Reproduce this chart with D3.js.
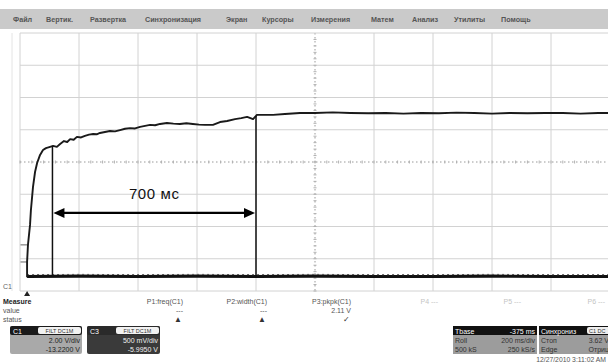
<!DOCTYPE html>
<html><head><meta charset="utf-8">
<script src="https://cdn.jsdelivr.net/npm/d3@7"></script>
<style>body{margin:0;background:#fff}svg{display:block;font-family:"Liberation Sans",Arial,sans-serif}</style>
</head><body>
<script>
// ---- data ----
const menuItems = ["Файл","Вертик.","Развертка","Синхронизация","Экран","Курсоры","Измерения","Матем","Анализ","Утилиты","Помощь"];
const menuX = [13,46,90,145,226,262,311,371,412,454,501];
// C1 trace: time (ms, 200 ms/div) and level (divisions from bottom)
const c1Time = [24,24,27,34,37,44,51,58,68,78,88,102,112,125,136,149,160,170,182,193,207,220,234,248,260,271,288,305,322,339,356,373,390,407,424,441,458,475,498,520,542,564,586,607,627,654,678,702,729,750,770,790,803,831,858,898,949,1000,1060,1120,1180,1240,1300,1360,1420,1480,1540,1600,1660,1720,1780,1840,1900,1960,2000];
const c1Div  = [0.43,0.90,1.43,2.05,2.51,3.22,3.69,3.97,4.22,4.37,4.43,4.47,4.50,4.47,4.56,4.65,4.62,4.71,4.69,4.78,4.76,4.81,4.85,4.87,4.86,4.90,4.93,4.96,4.95,4.99,5.03,5.05,5.04,5.09,5.12,5.15,5.14,5.18,5.21,5.19,5.18,5.20,5.18,5.16,5.15,5.15,5.24,5.27,5.33,5.36,5.40,5.33,5.46,5.46,5.46,5.49,5.52,5.52,5.54,5.52,5.51,5.52,5.50,5.52,5.51,5.53,5.52,5.50,5.52,5.51,5.52,5.52,5.50,5.52,5.52];
// C3 trace
const c3Time = [24,200,400,600,800,1000,1200,1400,1600,1800,2000];
const c3Div  = [0.45,0.46,0.45,0.46,0.45,0.46,0.45,0.45,0.46,0.45,0.45];
// cursors (ms)
const cursorTimes = [110,800];
const cursorLabel = "700 мс";
// measurement table
const measNames = ["P1:freq(C1)","P2:width(C1)","P3:pkpk(C1)","P4 ---","P5 ---","P6 ---"];
const measValues = ["---","---","2.11 V","","",""];
const measStatus = ["▲","▲","✓","","",""];
const chBoxes = [
  {ch:"C1", tag:"FILT DC1M", l1:"2.00 V/div", l2:"-13.2200 V"},
  {ch:"C3", tag:"FILT DC1M", l1:"500 mV/div", l2:"-5.9950 V"}
];
const tbaseRows = [["Tbase","-375 ms"],["Roll","200 ms/div"],["500 kS","250 kS/s"]];
const trigRows = [["Синхрониз",""],["Стоп","3.62 V"],["Edge","Отриц"]];
const dateText = "12/27/2010 3:11:02 AM";

// ---- drawing ----
const W=608,H=364;
const svg=d3.select("body").append("svg").attr("width",W).attr("height",H);
const x=d3.scaleLinear().domain([0,2000]).range([20,610]);
const y=d3.scaleLinear().domain([0,8]).range([291,33]);

// menu bar
svg.append("rect").attr("x",0).attr("y",9).attr("width",W).attr("height",20).attr("fill","#cacaca");
svg.selectAll("text.menu").data(menuItems).enter().append("text")
  .attr("x",(d,i)=>menuX[i]).attr("y",22).attr("font-size",7.2).attr("font-weight","bold").attr("fill","#555").text(d=>d);

// grid
const g=svg.append("g");
g.append("line").attr("x1",12).attr("x2",12).attr("y1",33).attr("y2",291).attr("stroke","#e4e4e4");
d3.range(0,11).forEach(i=>{
  const xx=x(i*200);
  g.append("line").attr("x1",xx).attr("x2",xx).attr("y1",33).attr("y2",291)
   .attr("stroke",i===5?"#9a9a9a":"#d2d2d2").attr("stroke-dasharray",i===5?"1.5,2.5":null);
});
d3.range(0,9).forEach(i=>{
  const yy=y(i);
  g.append("line").attr("x1",20).attr("x2",610).attr("y1",yy).attr("y2",yy)
   .attr("stroke",i===4?"#9a9a9a":"#d2d2d2").attr("stroke-dasharray",i===4?"1.5,2.5":null);
});
d3.range(0,50).forEach(i=>{
  const xx=x(i*40);
  g.append("line").attr("x1",xx).attr("x2",xx).attr("y1",y(4)-1.5).attr("y2",y(4)+1.5).attr("stroke","#b0b0b0");
});
d3.range(0,40).forEach(i=>{
  const yy=y(i*0.2);
  g.append("line").attr("x1",x(1000)-1.5).attr("x2",x(1000)+1.5).attr("y1",yy).attr("y2",yy).attr("stroke","#b0b0b0");
});

// reference marks left
[0.90,1.43].forEach(v=>{
  svg.append("line").attr("x1",20.5).attr("x2",x(24)).attr("y1",y(v)).attr("y2",y(v)).attr("stroke","#666").attr("stroke-width",1);
});

// traces
const line=d3.line().x(d=>x(d[0])).y(d=>y(d[1]));
svg.append("path").datum(c3Time.map((t,i)=>[t,c3Div[i]])).attr("d",line)
  .attr("fill","none").attr("stroke","#111").attr("stroke-width",3.2);
svg.append("path").datum(c3Time.map((t,i)=>[t,c3Div[i]])).attr("d",line)
  .attr("fill","none").attr("stroke","#555").attr("stroke-width",1).attr("stroke-dasharray","2,3").attr("transform","translate(0,-1.8)");
svg.append("path").datum(c1Time.map((t,i)=>[t,c1Div[i]])).attr("d",line)
  .attr("fill","none").attr("stroke","#1a1a1a").attr("stroke-width",1.9).attr("stroke-linejoin","round");

// cursors
const levelAt=(t)=>{
  let i=c1Time.findIndex(v=>v>=t); if(i<=0) return c1Div[0];
  const t0=c1Time[i-1],t1=c1Time[i]; const f=(t-t0)/(t1-t0); return c1Div[i-1]+(c1Div[i]-c1Div[i-1])*f;
};
cursorTimes.forEach(t=>{
  svg.append("line").attr("x1",x(t)).attr("x2",x(t)).attr("y1",y(levelAt(t))).attr("y2",y(c3Div[0]))
   .attr("stroke","#111").attr("stroke-width",1.5);
});
const ay=y(2.42);
const ax1=x(cursorTimes[0])+1, ax2=x(cursorTimes[1])-1;
svg.append("line").attr("x1",ax1+8).attr("x2",ax2-8).attr("y1",ay).attr("y2",ay).attr("stroke","#000").attr("stroke-width",2.2);
svg.append("path").attr("d",`M${ax1},${ay}L${ax1+11},${ay-5}L${ax1+11},${ay+5}Z`).attr("fill","#000");
svg.append("path").attr("d",`M${ax2},${ay}L${ax2-11},${ay-5}L${ax2-11},${ay+5}Z`).attr("fill","#000");
svg.append("text").attr("x",(ax1+ax2)/2).attr("y",ay-14).attr("text-anchor","middle")
  .attr("font-size",15).attr("letter-spacing",0.6).attr("fill","#111").text(cursorLabel);

// channel label & trigger marker
svg.append("text").attr("x",3).attr("y",289).attr("font-size",7).attr("fill","#666").text("C1");
svg.append("path").attr("d",`M${x(24)-3},296L${x(24)+3},296L${x(24)},291Z`).attr("fill","#222");

// measure table
const fs=7;
svg.append("text").attr("x",3).attr("y",304).attr("font-size",fs).attr("font-weight","bold").attr("fill","#222").text("Measure");
svg.append("text").attr("x",3).attr("y",313).attr("font-size",fs).attr("fill","#555").text("value");
svg.append("text").attr("x",3).attr("y",322).attr("font-size",fs).attr("fill","#555").text("status");
const colR=[183,267,351,438,521,605];
measNames.forEach((n,i)=>{
  const faded=i>=3;
  svg.append("text").attr("x",colR[i]).attr("y",304).attr("text-anchor","end").attr("font-size",fs)
    .attr("fill",faded?"#c4c4c4":"#555").text(n);
  if(measValues[i]) svg.append("text").attr("x",colR[i]).attr("y",313).attr("text-anchor","end").attr("font-size",fs).attr("fill","#555").text(measValues[i]);
  if(measStatus[i]) svg.append("text").attr("x",colR[i]-5).attr("y",322).attr("text-anchor","middle").attr("font-size",8).attr("fill","#333").text(measStatus[i]);
});

// channel boxes
const boxX=[10,87], boxW=[72,73];
chBoxes.forEach((b,i)=>{
  const bx=boxX[i], bw=boxW[i], dark=i===1;
  svg.append("rect").attr("x",bx).attr("y",326).attr("width",bw).attr("height",28).attr("rx",2).attr("fill",dark?"#3a3a3a":"#a9a9a9");
  svg.append("rect").attr("x",bx).attr("y",326).attr("width",bw).attr("height",9).attr("rx",2).attr("fill",dark?"#2a2a2a":"#1a1a1a");
  svg.append("rect").attr("x",bx+bw-44).attr("y",327).attr("width",43).attr("height",7).attr("rx",2).attr("fill","#f2f2f2");
  svg.append("text").attr("x",bx+3).attr("y",333.5).attr("font-size",7).attr("fill","#fff").text(b.ch);
  svg.append("text").attr("x",bx+bw-22.5).attr("y",333).attr("text-anchor","middle").attr("font-size",5.5).attr("fill","#333").text(b.tag);
  svg.append("text").attr("x",bx+bw-2).attr("y",343).attr("text-anchor","end").attr("font-size",7).attr("fill",dark?"#eee":"#222").text(b.l1);
  svg.append("text").attr("x",bx+bw-2).attr("y",352).attr("text-anchor","end").attr("font-size",7).attr("fill",dark?"#eee":"#222").text(b.l2);
});

// timebase & trigger boxes
function infoBox(bx,bw,rows,tag){
  svg.append("rect").attr("x",bx).attr("y",326).attr("width",bw).attr("height",28).attr("fill","#9c9c9c");
  svg.append("rect").attr("x",bx).attr("y",326).attr("width",bw).attr("height",9).attr("fill","#111");
  if(tag){
    svg.append("rect").attr("x",bx+bw-24).attr("y",327).attr("width",26).attr("height",7).attr("rx",2).attr("fill","#eee");
    svg.append("text").attr("x",bx+bw-22).attr("y",333).attr("font-size",5.5).attr("fill","#333").text(tag);
  }
  rows.forEach((r,j)=>{
    const yy=333.5+j*9.2;
    svg.append("text").attr("x",bx+2).attr("y",yy).attr("font-size",7).attr("fill",j===0?"#fff":"#333").text(r[0]);
    if(r[1]) svg.append("text").attr("x",bx+bw-2).attr("y",yy).attr("text-anchor","end").attr("font-size",7).attr("fill",j===0?"#fff":"#333").text(r[1]);
  });
}
infoBox(453,84,tbaseRows,null);
infoBox(539,72,trigRows,"C1 DC");

svg.append("text").attr("x",606).attr("y",362).attr("text-anchor","end").attr("font-size",6.8).attr("fill","#555").text(dateText);
</script>
</body></html>
